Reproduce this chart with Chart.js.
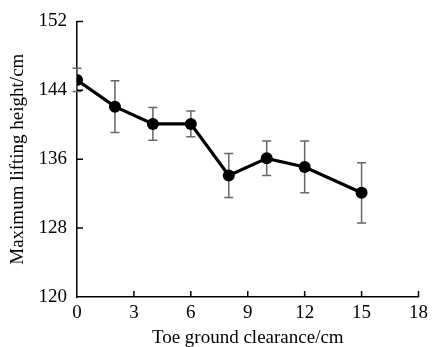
<!DOCTYPE html>
<html>
<head>
<meta charset="utf-8">
<script src="https://cdn.jsdelivr.net/npm/chart.js@4/dist/chart.umd.min.js"></script>
<style>
  html, body { margin: 0; padding: 0; background: #fff; }
  #c { display: block; }
</style>
</head>
<body>
<canvas id="c" width="433" height="347"></canvas>
<script>
// ---- data ----
const clearance = [0, 2, 4, 6, 8, 10, 12, 15];
const liftHeight = [145.2, 142.1, 140.1, 140.1, 134.1, 136.1, 135.1, 132.1];
const liftError = [1.35, 3.0, 1.9, 1.5, 2.55, 2.0, 3.0, 3.5];
const xTicks = [0, 3, 6, 9, 12, 15, 18];
const yTicks = [120, 128, 136, 144, 152];
const xTitle = 'Toe ground clearance/cm';
const yTitle = 'Maximum lifting height/cm';

const FONT = "'Liberation Serif', 'Times New Roman', serif";

const errorBarPlugin = {
  id: 'errorBars',
  beforeDatasetsDraw(chart) {
    const ctx = chart.ctx;
    const xs = chart.scales.x, ys = chart.scales.y;
    ctx.save();
    ctx.strokeStyle = '#666';
    ctx.lineWidth = 1.5;
    clearance.forEach((xv, i) => {
      const px = xs.getPixelForValue(xv);
      const top = ys.getPixelForValue(liftHeight[i] + liftError[i]);
      const bot = ys.getPixelForValue(liftHeight[i] - liftError[i]);
      const cap = 4.5;
      ctx.beginPath();
      ctx.moveTo(px, top); ctx.lineTo(px, bot);
      ctx.moveTo(px - cap, top); ctx.lineTo(px + cap, top);
      ctx.moveTo(px - cap, bot); ctx.lineTo(px + cap, bot);
      ctx.stroke();
    });
    ctx.restore();
  }
};

const innerTicksPlugin = {
  id: 'innerTicks',
  afterDraw(chart) {
    const ctx = chart.ctx;
    const xs = chart.scales.x, ys = chart.scales.y;
    const a = chart.chartArea;
    const len = 6;
    ctx.save();
    ctx.strokeStyle = '#000';
    ctx.lineWidth = 1.5;
    ctx.beginPath();
    xTicks.forEach(v => {
      if (v === xTicks[0]) return;
      const px = xs.getPixelForValue(v);
      ctx.moveTo(px, a.bottom); ctx.lineTo(px, a.bottom - len);
    });
    yTicks.forEach(v => {
      if (v === yTicks[0]) return;
      const py = ys.getPixelForValue(v);
      ctx.moveTo(a.left, py); ctx.lineTo(a.left + len, py);
    });
    ctx.stroke();
    ctx.restore();
  }
};

new Chart(document.getElementById('c'), {
  type: 'scatter',
  data: {
    datasets: [{
      data: clearance.map((x, i) => ({ x: x, y: liftHeight[i] })),
      showLine: true,
      borderColor: '#000',
      backgroundColor: '#000',
      borderWidth: 3.2,
      pointRadius: 6,
      pointHoverRadius: 6,
      pointBackgroundColor: '#000',
      pointBorderColor: '#000',
      pointBorderWidth: 0
    }]
  },
  options: {
    responsive: false,
    animation: false,
    devicePixelRatio: 1,
    layout: { padding: { left: 0, right: 10, top: 20, bottom: 0 } },
    plugins: { legend: { display: false }, tooltip: { enabled: false } },
    scales: {
      x: {
        type: 'linear',
        min: 0, max: 18,
        afterBuildTicks: s => { s.ticks = xTicks.map(v => ({ value: v })); },
        afterFit: s => { s.height = 50; },
        grid: { display: false, drawTicks: false },
        border: { display: true, color: '#000', width: 1.5 },
        ticks: { color: '#000', padding: 5, maxRotation: 0, autoSkip: false, font: { family: FONT, size: 19 } },
        title: { display: true, text: xTitle, color: '#000', font: { family: FONT, size: 19, lineHeight: 1.0 }, padding: { top: 0, bottom: -1 } }
      },
      y: {
        type: 'linear',
        min: 120, max: 152,
        afterBuildTicks: s => { s.ticks = yTicks.map(v => ({ value: v })); },
        afterFit: s => { s.width = 77; },
        grid: { display: false, drawTicks: false },
        border: { display: true, color: '#000', width: 1.5 },
        ticks: { color: '#000', padding: 10, autoSkip: false, font: { family: FONT, size: 19 } },
        title: { display: true, text: yTitle, color: '#000', font: { family: FONT, size: 19, lineHeight: 1.0 }, padding: { top: 9, bottom: 0 } }
      }
    }
  },
  plugins: [errorBarPlugin, innerTicksPlugin]
});
</script>
</body>
</html>
